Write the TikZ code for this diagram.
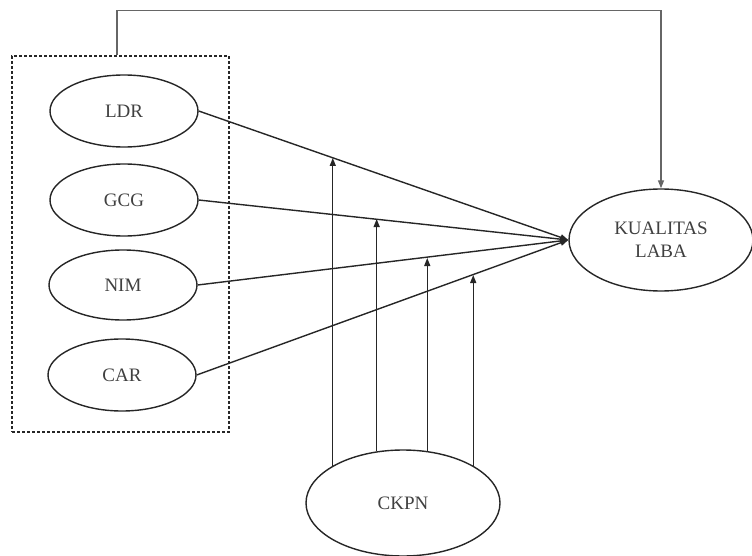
\documentclass[tikz,border=0pt]{standalone}
\usepackage{fontspec}
\setmainfont{Liberation Serif}
\usetikzlibrary{arrows.meta,shapes.geometric}
\begin{document}
\begin{tikzpicture}[x=1pt,y=-1pt,
  var/.style={draw=black!85,line width=1.4pt,ellipse,inner sep=0pt,text=black!75,font=\fontsize{19}{21}\selectfont},
  arr/.style={draw=black!85,line width=1.4pt,-{Triangle[length=8pt,width=6pt]}}]
\useasboundingbox (0,0) rectangle (752,556);
\node[draw=black!85,line width=1.2pt,dash pattern=on 3pt off 2pt,minimum width=217pt,minimum height=376pt,inner sep=0pt] (box) at (120.5,244) {};
\node[var,minimum width=148pt,minimum height=72pt] (ldr) at (124,111) {LDR};
\node[var,minimum width=148pt,minimum height=72pt] (gcg) at (124,200) {GCG};
\node[var,minimum width=148pt,minimum height=70pt] (nim) at (123,285) {NIM};
\node[var,minimum width=148pt,minimum height=72pt] (car) at (122,375) {CAR};
\node[var,minimum width=184pt,minimum height=102pt,align=center,font=\fontsize{19}{23}\selectfont] (kl) at (661,240) {KUALITAS\\LABA};
\node[var,minimum width=194pt,minimum height=106pt] (ckpn) at (403,503) {CKPN};
\draw[arr,draw=black!60] ([xshift=-3.5pt]box.north) -- ++(0,-45) -| (kl.north);
\draw[arr] (ldr.east) -- (kl.west);
\draw[arr] (gcg.east) -- (kl.west);
\draw[arr] (nim.east) -- (kl.west);
\draw[arr] (car.east) -- (kl.west);
\coordinate (t1) at (333,158);
\coordinate (t2) at (377,219);
\coordinate (t3) at (427,258);
\coordinate (t4) at (472,275);
\draw[arr] (ckpn.152.3) -- (ckpn.152.3 |- t1);
\draw[arr] (ckpn.117) -- (ckpn.117 |- t2);
\draw[arr] (ckpn.65) -- (ckpn.65 |- t3);
\draw[arr] (ckpn.28.4) -- (ckpn.28.4 |- t4);
\end{tikzpicture}
\end{document}
